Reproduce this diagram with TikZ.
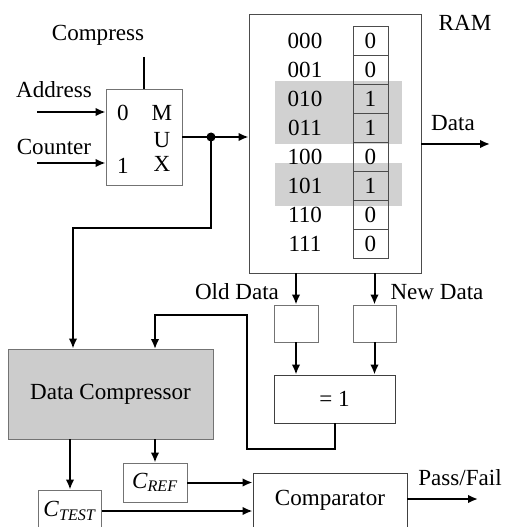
\documentclass[tikz,border=0pt]{standalone}
\usepackage{fontspec}
\setmainfont{Liberation Serif}
\usepackage{tikz}
\usetikzlibrary{arrows,arrows.meta,shapes,positioning}

\newcommand{\Csub}[1]{\textit{C}\textsubscript{\textit{#1}}}

\tikzset{
  box/.style = {draw=black!55, line width=.7pt, rectangle, inner sep=0pt},
  sz/.style 2 args = {minimum width=#1*.75pt, minimum height=#2*.75pt},
  arr/.style = {-{Latex[length=7.5pt,width=6.5pt]}, line width=1.5pt},
  wire/.style = {line width=1.5pt},
  cell/.style = {box, draw=black!70, sz={35}{29}},
  lbl/.style = {inner sep=0pt}
}

\begin{document}
\begin{tikzpicture}[x=.75pt, y=-.75pt, font=\fontsize{17.3}{20}\selectfont]
\clip (0,0) rectangle (506,527);
\useasboundingbox (0,0) rectangle (506,527);

% multiplexer
\node[box, sz={76}{96}] (mux) at (144,137) {};
\node[lbl] (m0) at (123,113) {0};
\node[lbl] (m1) at (123,166) {1};
\node[lbl] (mM) at (162,113) {M};
\node[lbl] (mU) at (162,140) {U};
\node[lbl] (mX) at (162,164) {X};
\node[lbl] (compress) at (98,35) {Compress};
\node[lbl] (address) at (54,90) {Address};
\node[lbl] (counter) at (54,147) {Counter};
\coordinate (cin) at (144,57);
\coordinate (ain) at (37,112);
\coordinate (nin) at (37,163);
\draw[wire] (cin) -- (cin |- mux.north);
\draw[arr] (ain) -- (ain -| mux.west);
\draw[arr] (nin) -- (nin -| mux.west);

% RAM
\fill[black!18] (275,81) rectangle (402,144);
\fill[black!18] (275,163) rectangle (402,206);
\node[box, draw=black!70, sz={172}{259}] (ram) at (335,143.5) {};
\node[lbl] (ramlbl) at (465,23) {RAM};
\foreach \a/\v [count=\i from 0] in {000/0,001/0,010/1,011/1,100/0,101/1,110/0,111/0}{
  \node[cell] (c\i) at (370.5,40.5+29*\i) {\v};
  \node[lbl] (a\i) at (305,40.5+29*\i) {\a};
}
\coordinate (dout) at (490,144);
\node[lbl] (data) at (453,123) {Data};
\draw[arr] (dout -| ram.east) -- (dout);

% mux output and junction
\coordinate (jn) at (211,137);
\draw[arr] (mux.east) -- (ram.west |- mux.east);
\fill (jn) circle (4.5);
\coordinate (bend) at (73,228);

% registers and xor
\node[box, sz={44}{37}] (oldreg) at (296,323.5) {};
\node[box, sz={43}{37}] (newreg) at (374.5,323.5) {};
\node[box, draw=black!75, sz={121}{48}] (xor) at (334.5,399) {= 1};
\node[lbl] (olddata) at (237,292) {Old Data};
\node[lbl] (newdata) at (437,292) {New Data};
\draw[arr] (oldreg.north |- ram.south) -- (oldreg.north);
\draw[arr] (newreg.north |- ram.south) -- (newreg.north);
\draw[arr] (oldreg.south) -- (oldreg.south |- xor.north);
\draw[arr] (newreg.south) -- (newreg.south |- xor.north);

% compressor
\node[box, fill=black!20, sz={205}{90}] (dc) at (110.5,394) {Data Compressor};
\coordinate (fb) at (247,315);
\coordinate (fbin) at (155,349);
\draw[arr] (jn) |- (bend) -- (bend |- dc.north);
\draw[arr] (xor.south) -- ++(0,26) -| (fb) -| (fbin);

% signatures and comparator
\node[box, sz={64}{39}] (cref) at (155,482.5) {\Csub{REF}};
\node[box, sz={63}{42}] (ctest) at (70,511) {\Csub{TEST}};
\node[box, draw=black!75, sz={154}{62}, text depth=9pt] (comp) at (330,504) {Comparator};
\coordinate (pf) at (478,499);
\node[lbl] (passfail) at (460,478) {Pass/Fail};
\draw[arr] (ctest.north |- dc.south) -- (ctest.north);
\draw[arr] (cref.north |- dc.south) -- (cref.north);
\draw[arr] (cref.east) -- (cref.east -| comp.west);
\draw[arr] (ctest.east) -- (ctest.east -| comp.west);
\draw[arr] (pf -| comp.east) -- (pf);
\end{tikzpicture}
\end{document}
